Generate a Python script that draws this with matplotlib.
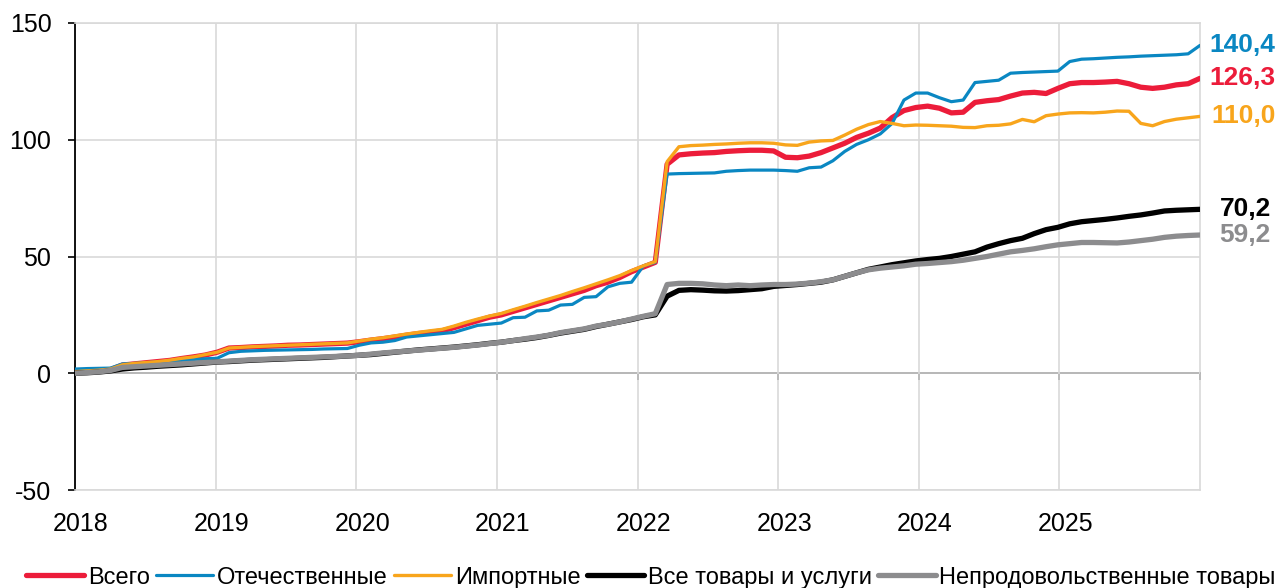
import numpy as np
import matplotlib
matplotlib.use('Agg')
import matplotlib.pyplot as plt
import matplotlib.transforms as mtrans

plt.rcParams['font.family'] = ['Liberation Sans', 'DejaVu Sans']
plt.rcParams['axes.unicode_minus'] = False

# monthly points, Jan 2018 .. Dec 2025 (96 months)
years = [2018, 2019, 2020, 2021, 2022, 2023, 2024, 2025]
months = np.arange(96)

vsego = [0.8, 1.0, 1.2, 1.6, 3.5, 4.0, 4.5, 5.0, 5.5, 6.3, 7.0, 7.8, 9.0,
         10.8, 11.0, 11.3, 11.5, 11.7, 12.0, 12.1, 12.3, 12.5, 12.7, 12.9, 13.5,
         14.2, 14.8, 15.5, 16.3, 17.0, 17.5, 18.2, 19.5, 21.0, 22.5, 24.0, 25.0,
         26.5, 28.0, 29.5, 31.0, 32.5, 34.0, 35.5, 37.5, 39.0, 41.0, 43.5, 45.5, 47.5,
         89.5, 93.5, 94.0, 94.3, 94.5, 95.0, 95.3, 95.5, 95.5, 95.2,
         92.5, 92.3, 93.0, 94.5, 96.5, 98.5, 101.0, 102.8, 105.0, 109.5, 112.5,
         113.8, 114.4, 113.5, 111.5, 111.8, 116.0, 116.7, 117.2, 118.7, 120.0, 120.3, 119.8,
         122.0, 124.0, 124.5, 124.5, 124.7, 125.0, 124.0, 122.5, 122.0, 122.5, 123.5, 124.0, 126.3]

otech = [1.8, 2.0, 2.1, 2.2, 4.0, 4.2, 4.5, 4.9, 5.2, 5.5, 5.9, 6.2, 6.4,
         8.8, 9.4, 9.6, 9.8, 9.9, 10.0, 10.1, 10.2, 10.4, 10.5, 10.6, 12.0,
         13.0, 13.3, 14.0, 15.5, 16.0, 16.5, 17.0, 17.5, 19.0, 20.5, 21.0, 21.5,
         23.8, 24.0, 26.7, 27.0, 29.2, 29.5, 32.5, 32.8, 37.0, 38.5, 39.0, 46.0, 47.5,
         85.3, 85.5, 85.6, 85.7, 85.8, 86.5, 86.8, 87.0, 87.0, 87.0,
         86.8, 86.5, 88.0, 88.3, 91.0, 95.0, 98.0, 100.0, 102.5, 107.0, 117.0,
         120.0, 120.0, 118.0, 116.3, 117.0, 124.5, 125.0, 125.5, 128.5, 128.8, 129.0, 129.2,
         129.4, 133.5, 134.5, 134.7, 135.0, 135.3, 135.5, 135.8, 136.0, 136.2, 136.4, 136.8, 140.4]

import_ = [0.7, 1.0, 1.3, 1.8, 3.6, 4.2, 4.6, 5.0, 5.6, 6.4, 7.0, 8.0, 9.0,
           10.8, 11.1, 11.4, 11.6, 11.8, 12.0, 12.2, 12.4, 12.6, 12.8, 13.0, 13.8,
           14.6, 15.2, 16.0, 16.8, 17.5, 18.2, 18.8, 20.2, 21.8, 23.2, 24.5, 25.6,
           27.2, 28.7, 30.3, 31.8, 33.3, 35.0, 36.6, 38.3, 40.0, 41.8, 44.0, 46.0, 47.8,
           90.6, 97.0, 97.5, 97.7, 98.0, 98.2, 98.5, 98.7, 98.7, 98.5,
           97.8, 97.6, 99.0, 99.5, 99.7, 102.0, 104.5, 106.5, 107.8, 107.0, 106.0,
           106.3, 106.2, 106.0, 105.8, 105.3, 105.2, 106.0, 106.2, 106.8, 108.7, 107.7, 110.3,
           111.0, 111.5, 111.6, 111.5, 111.8, 112.3, 112.2, 107.0, 106.0, 107.8, 108.8, 109.4, 110.0]

vse_tovary = [0.0, 0.2, 0.5, 1.0, 1.8, 2.3, 2.6, 3.0, 3.3, 3.6, 4.0, 4.4, 4.8,
              5.0, 5.3, 5.6, 5.8, 6.0, 6.2, 6.4, 6.6, 6.8, 7.1, 7.4, 7.7,
              8.0, 8.5, 9.0, 9.5, 10.0, 10.4, 10.8, 11.2, 11.7, 12.2, 12.8, 13.3,
              14.0, 14.6, 15.3, 16.2, 17.2, 18.0, 18.8, 20.0, 21.0, 22.0, 23.0, 24.2, 25.0,
              33.0, 35.5, 35.8, 35.6, 35.3, 35.2, 35.4, 35.8, 36.2, 37.2,
              37.6, 38.0, 38.5, 39.0, 40.0, 41.5, 43.0, 44.5, 45.5, 46.5, 47.3,
              48.1, 48.7, 49.2, 50.0, 51.0, 52.0, 54.0, 55.5, 56.8, 57.8, 59.8, 61.5,
              62.5, 64.0, 64.9, 65.4, 65.9, 66.5, 67.2, 67.8, 68.6, 69.5, 69.8, 70.0, 70.2]

neprod = [0.0, 0.3, 0.6, 1.2, 2.5, 2.8, 3.1, 3.4, 3.7, 4.0, 4.3, 4.6, 4.9,
          5.2, 5.5, 5.8, 6.0, 6.2, 6.4, 6.6, 6.8, 7.0, 7.2, 7.4, 7.7,
          8.2, 8.7, 9.1, 9.5, 9.9, 10.3, 10.7, 11.1, 11.6, 12.1, 12.7, 13.3,
          14.0, 14.8, 15.5, 16.3, 17.4, 18.2, 19.0, 20.2, 21.0, 22.0, 23.2, 24.4, 25.5,
          38.0, 38.5, 38.5, 38.3, 37.8, 37.5, 37.8, 37.5, 37.8, 38.0,
          38.0, 38.2, 38.6, 39.2, 40.0, 41.5, 43.0, 44.3, 45.0, 45.5, 46.0,
          46.7, 47.0, 47.4, 47.8, 48.4, 49.2, 50.0, 51.0, 52.0, 52.6, 53.3, 54.2,
          55.0, 55.5, 56.0, 56.0, 55.9, 55.8, 56.2, 56.8, 57.4, 58.2, 58.7, 59.0, 59.2]

names = ['Всего', 'Отечественные', 'Импортные', 'Все товары и услуги', 'Непродовольственные товары']
series = [vsego, otech, import_, vse_tovary, neprod]
colors = ['#EC1C3A', '#0A87C2', '#F8A51C', '#000000', '#8C8C8E']
widths = [3.8, 2.3, 2.4, 3.8, 3.8]
end_labels = ['126,3', '140,4', '110,0', '70,2', '59,2']
label_x = [1.067, 1.067, 1.067, 1.063, 1.063]

fig = plt.figure(figsize=(12.83, 5.88), dpi=100)
ax = fig.add_axes([75 / 1283, 1 - 490 / 588, 1125 / 1283, 467 / 588])

grid_c = '#D9D9D9'
for name, ys, c, w in zip(names, series, colors, widths):
    ax.plot(months, ys, color=c, lw=w, label=name, solid_capstyle='round', solid_joinstyle='round', zorder=3)

for ys, c, txt, lx in zip(series, colors, end_labels, label_x):
    ax.text(lx, ys[-1], txt, transform=ax.get_yaxis_transform(), color=c,
            fontsize=19, fontweight='bold', ha='right', va='center', clip_on=False)

ax.set_xlim(months[0], months[-1])
ax.set_ylim(-50, 150)
ax.set_yticks([-50, 0, 50, 100, 150])

# year ticks split the span into equal parts
year_pos = np.linspace(months[0], months[-1], len(years) + 1)
ax.set_xticks(year_pos[:-1])
ax.set_xticklabels([str(y) for y in years])
ax.tick_params(axis='x', length=0, pad=16, labelsize=18)
ax.tick_params(axis='y', length=5, width=1.2, direction='out', pad=12, labelsize=18)
shift = mtrans.ScaledTranslation(6 / 100, 0, fig.dpi_scale_trans)
for lbl in ax.get_xticklabels():
    lbl.set_transform(lbl.get_transform() + shift)

ax.grid(True, color=grid_c, lw=1.2, zorder=0)
for s in ['top', 'right', 'bottom']:
    ax.spines[s].set_color(grid_c)
    ax.spines[s].set_linewidth(1.2)
ax.spines['left'].set_color('black')
ax.spines['left'].set_linewidth(1.3)

# x axis line at zero with tick marks
sec = ax.secondary_xaxis(0.25)
sec.set_xticks(year_pos)
sec.tick_params(axis='x', length=5, width=1.2, direction='out', labelbottom=False)
sec.spines['bottom'].set_color('black')
sec.spines['bottom'].set_linewidth(1.3)

fig.legend(loc='lower center', bbox_to_anchor=(0.5074, -0.025), ncol=5, frameon=False,
           fontsize=17, handlelength=2.45, handletextpad=0.15, columnspacing=0.25,
           borderaxespad=0.2)

fig.savefig('out.png', dpi=100)
